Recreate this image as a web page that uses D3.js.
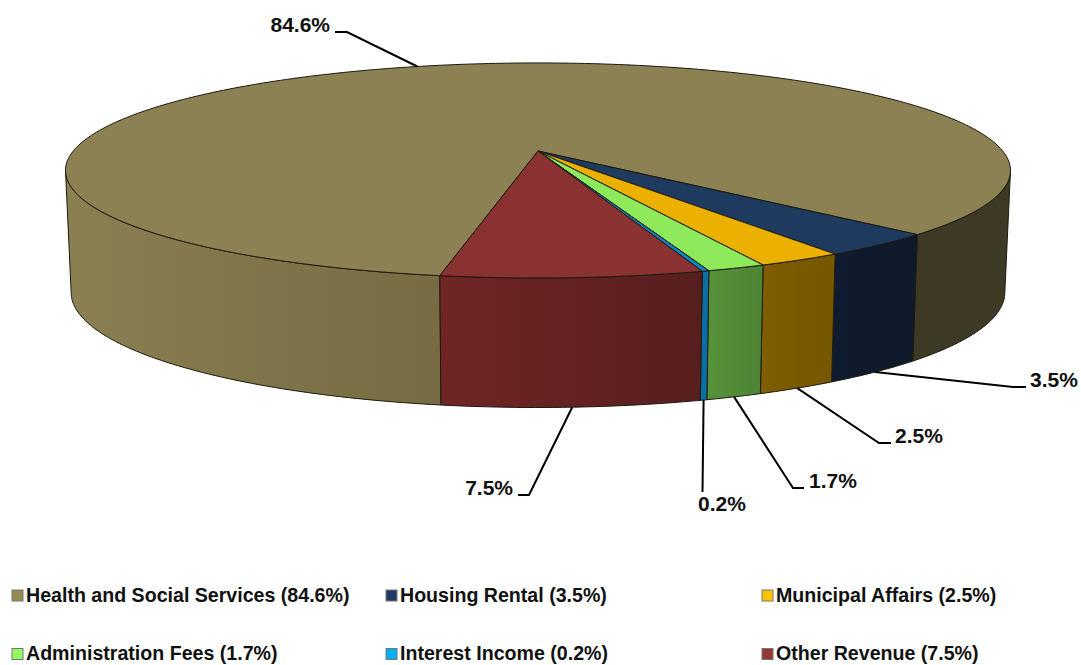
<!DOCTYPE html>
<html>
<head>
<meta charset="utf-8">
<script src="https://d3js.org/d3.v7.min.js"></script>
<style>
  body { margin: 0; background: #fff; font-family: "Liberation Sans", Arial, Helvetica, sans-serif; }
  svg { display: block; }
  text { font-weight: bold; fill: #111; }
  .label { font-size: 21px; }
  .legend { font-size: 19.6px; }
</style>
</head>
<body>
<div id="viz"></div>
<script>
// data
const categories = ["Health and Social Services", "Housing Rental", "Municipal Affairs", "Administration Fees", "Interest Income", "Other Revenue"];
const shares = [84.6, 3.5, 2.5, 1.7, 0.2, 7.5];
const topColors = ["#8b8152", "#1f3a5f", "#ecb000", "#8eea5a", "#0f85c0", "#8a3232"];
const legendColors = ["#948a54", "#1f3b63", "#ffc000", "#92fb5f", "#00b0f0", "#953735"];
// side wall gradient, left to right
const wallLeft = ["#8a8052", "#0f1b2e", "#7f5d00", "#57923b", "#0b6fa5", "#712525"];
const wallRight = ["#766b42", "#0e192a", "#755700", "#4d8534", "#0b6fa5", "#571e1e"];
const wallFar = "#3e3924";

// layout of the leader lines: elbow, end of the shelf, label position
const leaders = [
  {elbow: [347, 32], end: [335, 32], text: [330, 32], anchor: "end"},
  {elbow: [1013, 387], end: [1026, 387], text: [1030, 387], anchor: "start"},
  {elbow: [879, 443], end: [891, 443], text: [895, 443], anchor: "start"},
  {elbow: [793, 488], end: [804, 488], text: [809, 488], anchor: "start"},
  {elbow: [702.5, 492], end: [702.5, 492], text: [722, 511], anchor: "middle"},
  {elbow: [529, 495], end: [518, 495], text: [513, 495], anchor: "end"}
];
const legendColumns = [12, 386, 762];
const legendRows = [601.5, 660];

const width = 1081, height = 665;
const rad = Math.PI / 180;

const svg = d3.select("#viz").append("svg")
  .attr("width", width)
  .attr("height", height);
const defs = svg.append("defs");

// perspective of the disc, a circle seen from above
const apex = [538, 151], A = 464.7, B = 104, k = 0.181;
function topPoint(t) {
  const u = Math.cos(t), v = Math.sin(t), w = 1 - k * v;
  return [apex[0] + A * u / w, apex[1] + B * v / w];
}
// bottom rim is the top rim shifted down and a bit narrower
function bottomPoint(t) {
  const p = topPoint(t);
  return [apex[0] + (p[0] - apex[0]) * 0.988, 292 + (p[1] - 170) * 115 / 107.5];
}

const pie = d3.pie().sort(null).startAngle(190 * rad).endAngle(190 * rad + 2 * Math.PI);
// pie angles start at 12 o'clock, the projection at 3 o'clock
const arcs = pie(shares).map((d, i) => ({i, a0: d.startAngle - Math.PI / 2, a1: d.endAngle - Math.PI / 2}));

const line = d3.line();
function sample(a0, a1) {
  const n = Math.max(2, Math.ceil((a1 - a0) / rad));
  return d3.range(n + 1).map(j => a0 + (a1 - a0) * j / n);
}

// visible part of the wall, between the two silhouette points
const wallMin = Math.asin(k), wallMax = Math.PI - wallMin;
const walls = [];
arcs.forEach(d => {
  [0, 2 * Math.PI].forEach(shift => {
    const lo = Math.max(d.a0, wallMin + shift), hi = Math.min(d.a1, wallMax + shift);
    // health wraps round, its right hand part is in shadow
    if (lo < hi) walls.push({i: d.i, lo, hi, far: d.i === 0 && shift > 0});
  });
});

walls.forEach((w, n) => {
  const xs = [topPoint(w.lo)[0], topPoint(w.hi)[0]];
  const g = defs.append("linearGradient")
    .attr("id", "wall" + n)
    .attr("gradientUnits", "userSpaceOnUse")
    .attr("x1", d3.min(xs)).attr("x2", d3.max(xs))
    .attr("y1", 0).attr("y2", 0);
  g.append("stop").attr("offset", 0).attr("stop-color", w.far ? wallFar : wallLeft[w.i]);
  g.append("stop").attr("offset", 1).attr("stop-color", w.far ? wallFar : wallRight[w.i]);
});

svg.append("g").selectAll("path")
  .data(walls)
  .join("path")
    .attr("d", w => {
      const ts = sample(w.lo, w.hi);
      return line(ts.map(topPoint).concat(ts.slice().reverse().map(bottomPoint))) + "Z";
    })
    .attr("fill", (w, n) => `url(#wall${n})`)
    .attr("stroke", "#1c1a10")
    .attr("stroke-width", 1)
    .attr("stroke-linejoin", "round");

svg.append("g").selectAll("path")
  .data(arcs)
  .join("path")
    .attr("d", d => line([apex].concat(sample(d.a0, d.a1).map(topPoint))) + "Z")
    .attr("fill", d => topColors[d.i])
    .attr("stroke", "#1c1a10")
    .attr("stroke-width", 1)
    .attr("stroke-linejoin", "round");

// leader lines, the big slice leaves from the top rim
svg.append("g").selectAll("path")
  .data(arcs)
  .join("path")
    .attr("d", d => {
      const mid = (d.a0 + d.a1) / 2;
      const start = d.i === 0 ? topPoint(mid) : bottomPoint(mid);
      return line([start, leaders[d.i].elbow, leaders[d.i].end]);
    })
    .attr("fill", "none")
    .attr("stroke", "#000")
    .attr("stroke-width", 2);

svg.append("g").selectAll("text")
  .data(shares)
  .join("text")
    .attr("class", "label")
    .attr("x", (d, i) => leaders[i].text[0])
    .attr("y", (d, i) => leaders[i].text[1])
    .attr("text-anchor", (d, i) => leaders[i].anchor)
    .text(d => d.toFixed(1) + "%");

// legend, 3 columns and 2 rows
const legend = svg.append("g").selectAll("g")
  .data(categories)
  .join("g")
    .attr("transform", (d, i) => `translate(${legendColumns[i % 3]},${legendRows[Math.floor(i / 3)]})`);

legend.append("rect")
  .attr("x", 0).attr("y", -11.5)
  .attr("width", 11).attr("height", 11)
  .attr("fill", (d, i) => legendColors[i])
  .attr("stroke", "#777")
  .attr("stroke-width", 1);

legend.append("text")
  .attr("class", "legend")
  .attr("x", 14)
  .attr("y", 0)
  .text((d, i) => `${d} (${shares[i].toFixed(1)}%)`);
</script>
</body>
</html>
